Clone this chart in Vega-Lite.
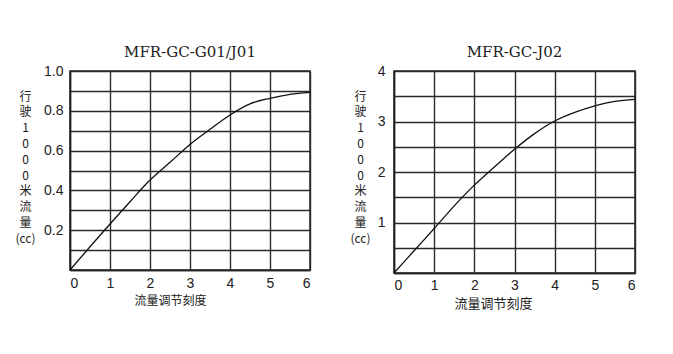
{
  "$schema": "https://vega.github.io/schema/vega-lite/v6.json",
  "background": "white",
  "padding": {"left": 14, "top": 44, "right": 30, "bottom": 40},
  "spacing": 35,
  "datasets": {
    "g01": [
      {"x": 0, "y": 0}, {"x": 0.5, "y": 0.117}, {"x": 1, "y": 0.231}, {"x": 1.5, "y": 0.343},
      {"x": 2, "y": 0.452}, {"x": 2.5, "y": 0.541}, {"x": 3, "y": 0.631}, {"x": 3.5, "y": 0.707},
      {"x": 4, "y": 0.779}, {"x": 4.5, "y": 0.835}, {"x": 5, "y": 0.863}, {"x": 5.5, "y": 0.883},
      {"x": 6, "y": 0.893}
    ],
    "j02": [
      {"x": 0, "y": 0}, {"x": 0.5, "y": 0.44}, {"x": 1, "y": 0.88}, {"x": 1.5, "y": 1.33},
      {"x": 2, "y": 1.74}, {"x": 2.5, "y": 2.1}, {"x": 3, "y": 2.45}, {"x": 3.5, "y": 2.76},
      {"x": 4, "y": 3.01}, {"x": 4.5, "y": 3.18}, {"x": 5, "y": 3.31}, {"x": 5.5, "y": 3.4},
      {"x": 6, "y": 3.44}
    ]
  },
  "config": {
    "view": {"stroke": "#222", "strokeWidth": 1.5},
    "axis": {
      "domainColor": "#222", "domainWidth": 1.5,
      "gridColor": "#2a2a2a", "gridWidth": 1.4, "gridOpacity": 1,
      "ticks": false,
      "labelFont": "Liberation Sans", "labelFontSize": 14, "labelColor": "#222",
      "titleFont": "Noto Sans CJK SC", "titleFontSize": 12, "titleFontWeight": "normal", "titleColor": "#222"
    },
    "title": {"font": "DejaVu Serif", "fontSize": 15, "fontWeight": "normal", "color": "#222", "offset": 4}
  },
  "hconcat": [
    {
      "width": 240, "height": 199,
      "title": "MFR-GC-G01/J01",
      "data": {"name": "g01"},
      "mark": {"type": "line", "color": "#111", "strokeWidth": 1.3, "interpolate": "monotone"},
      "encoding": {
        "x": {"field": "x", "type": "quantitative", "scale": {"domain": [0, 6], "nice": false},
          "axis": {"values": [0, 1, 2, 3, 4, 5, 6], "title": "流量调节刻度", "labelPadding": 6, "titlePadding": 5,
            "titleX": 100, "titleAlign": "center", "titleFontSize": 12}},
        "y": {"field": "y", "type": "quantitative", "scale": {"domain": [0, 1], "nice": false},
          "axis": {"values": [0, 0.1, 0.2, 0.3, 0.4, 0.5, 0.6, 0.7, 0.8, 0.9, 1.0],
            "labelExpr": "datum.value > 0 && round(datum.value * 10) % 2 == 0 ? format(datum.value, '.1f') : ''",
            "labelPadding": 7,
            "title": ["行", "驶", "1", "0", "0", "0", "米", "流", "量", "(cc)"],
            "titleAngle": 0, "titleAlign": "center", "titleBaseline": "top",
            "titleX": -45, "titleY": 20, "titleLineHeight": 15.8, "titleFontSize": 12}}
      }
    },
    {
      "width": 241, "height": 202,
      "title": "MFR-GC-J02",
      "data": {"name": "j02"},
      "mark": {"type": "line", "color": "#111", "strokeWidth": 1.3, "interpolate": "monotone"},
      "encoding": {
        "x": {"field": "x", "type": "quantitative", "scale": {"domain": [0, 6], "nice": false},
          "axis": {"values": [0, 1, 2, 3, 4, 5, 6], "title": "流量调节刻度", "labelPadding": 5, "titlePadding": 5,
            "titleX": 99, "titleAlign": "center", "titleFontSize": 13}},
        "y": {"field": "y", "type": "quantitative", "scale": {"domain": [0, 4], "nice": false},
          "axis": {"values": [0, 0.5, 1, 1.5, 2, 2.5, 3, 3.5, 4],
            "labelExpr": "datum.value > 0 && datum.value % 1 == 0 ? format(datum.value, 'd') : ''",
            "labelPadding": 9,
            "title": ["行", "驶", "1", "0", "0", "0", "米", "流", "量", "(cc)"],
            "titleAngle": 0, "titleAlign": "center", "titleBaseline": "top",
            "titleX": -34, "titleY": 20, "titleLineHeight": 15.8, "titleFontSize": 12}}
      }
    }
  ]
}
